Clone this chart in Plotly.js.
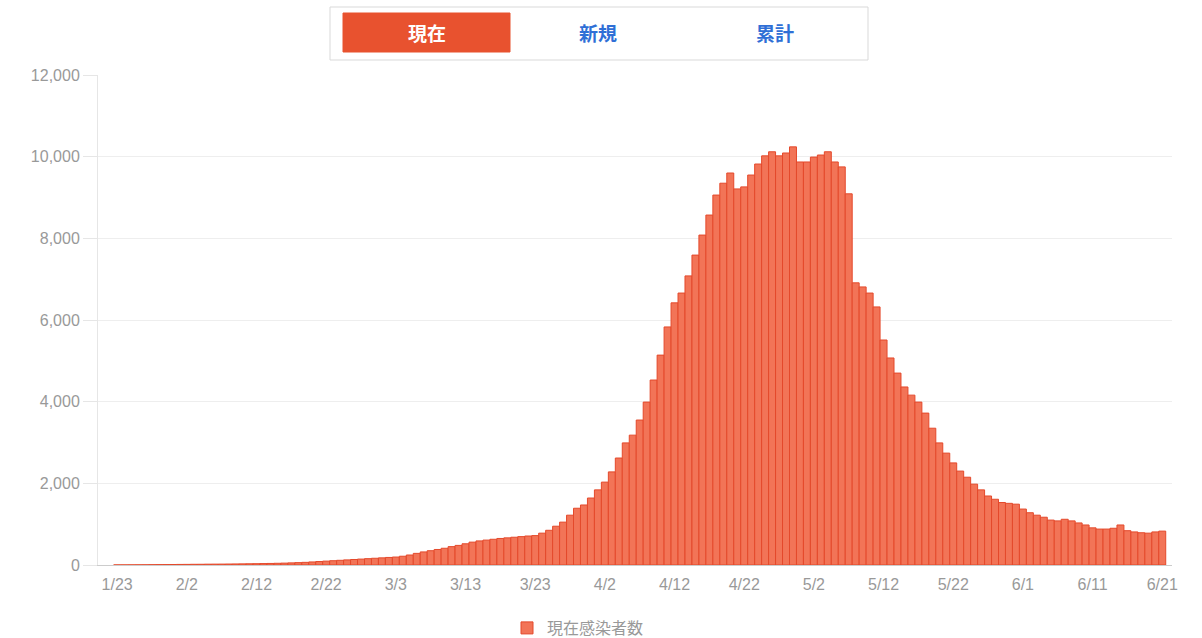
<!DOCTYPE html>
<html>
<head>
<meta charset="utf-8">
<script src="https://cdn.plot.ly/plotly-3.0.1.min.js"></script>
<style>
  html, body { margin: 0; padding: 0; background: #ffffff; }
  #chart { width: 1202px; height: 638px; }
</style>
</head>
<body>
<div id="chart"></div>
<script>
// ---- data ----
const startDate = '2020-01-23';
const seriesName = '現在感染者数';
const activeCases = [
  2, 2, 3, 4, 5, 7, 9, 10, 12, 14,
  15, 17, 18, 20, 21, 22, 24, 26, 28, 30,
  32, 35, 38, 42, 46, 52, 58, 65, 75, 85,
  95, 105, 115, 125, 135, 145, 155, 165, 175, 185,
  195, 215, 245, 285, 320, 350, 380, 410, 450, 480,
  520, 560, 590, 610, 630, 650, 665, 680, 695, 710,
  720, 780, 850, 950, 1050, 1220, 1390, 1470, 1640, 1840,
  2030, 2280, 2620, 2990, 3180, 3550, 3990, 4530, 5140, 5830,
  6420, 6660, 7080, 7590, 8080, 8570, 9060, 9350, 9600, 9210,
  9260, 9550, 9820, 10020, 10120, 10020, 10090, 10240, 9870, 9870,
  9990, 10040, 10120, 9870, 9750, 9090, 6910, 6810, 6660, 6320,
  5510, 5070, 4700, 4360, 4160, 3990, 3720, 3350, 2990, 2740,
  2500, 2300, 2150, 1980, 1840, 1690, 1610, 1530, 1510, 1490,
  1370, 1280, 1220, 1170, 1100, 1080, 1120, 1080, 1030, 980,
  910, 880, 880, 900, 980, 840, 810, 790, 780, 810, 830
];
const tickDates = ['2020-01-23','2020-02-02','2020-02-12','2020-02-22','2020-03-03','2020-03-13',
  '2020-03-23','2020-04-02','2020-04-12','2020-04-22','2020-05-02','2020-05-12',
  '2020-05-22','2020-06-01','2020-06-11','2020-06-21'];
const tickLabels = ['1/23','2/2','2/12','2/22','3/3','3/13','3/23','4/2','4/12','4/22',
  '5/2','5/12','5/22','6/1','6/11','6/21'];
const yTickVals = [0, 2000, 4000, 6000, 8000, 10000, 12000];
const yTickText = ['0', '2,000', '4,000', '6,000', '8,000', '10,000', '12,000'];
const tabLabels = ['現在', '新規', '累計'];

// ---- build dates ----
const DAY = 86400000;
const t0 = Date.parse(startDate + 'T00:00:00Z');
function fmt(ms) { return new Date(ms).toISOString().replace('T', ' ').replace('Z', ''); }
const dates = activeCases.map((_, i) => fmt(t0 + i * DAY).slice(0, 10));

const numFont = 'Arial, "Liberation Sans", "Noto Sans CJK JP", sans-serif';
const cjkFont = '"Noto Sans CJK JP", "Noto Sans CJK SC", sans-serif';

const trace = {
  type: 'bar',
  x: dates,
  y: activeCases,
  name: seriesName,
  marker: { color: '#f27457', line: { color: '#e4492b', width: 1 } },
  hoverinfo: 'x+y',
  showlegend: true
};

// paper coordinate helpers (plot area: x 98..1172, y 75..565)
const L = 98, R = 1172, T = 75, B = 565;
const px = v => (v - L) / (R - L);
const py = v => (B - v) / (B - T);

const layout = {
  width: 1202, height: 638,
  margin: { l: L, r: 1202 - R, t: T, b: 638 - B, autoexpand: false },
  paper_bgcolor: '#ffffff',
  plot_bgcolor: '#ffffff',
  bargap: 0,
  font: { family: numFont, color: '#999999', size: 16 },
  xaxis: {
    type: 'date',
    range: [fmt(t0 - 2.75 * DAY), fmt(t0 + 151.4 * DAY)],
    tickmode: 'array',
    tickvals: tickDates,
    ticktext: tickLabels,
    showgrid: false,
    ticks: 'outside', ticklen: 5, tickcolor: 'rgba(0,0,0,0)',
    tickfont: { family: numFont, size: 16, color: '#999999' },
    showline: true, linecolor: '#cccccc', linewidth: 1,
    zeroline: false, fixedrange: true, automargin: false
  },
  yaxis: {
    range: [0, 12000],
    tickmode: 'array',
    tickvals: yTickVals,
    ticktext: yTickText,
    showgrid: true, gridcolor: '#eeeeee', gridwidth: 1,
    ticks: 'outside', ticklen: 14, tickcolor: '#e6e6e6',
    tickfont: { family: numFont, size: 16, color: '#999999' },
    showline: true, linecolor: '#e6e6e6', linewidth: 1,
    zeroline: false, fixedrange: true, automargin: false
  },
  showlegend: true,
  legend: {
    orientation: 'h',
    x: px(507), xanchor: 'left',
    y: py(628), yanchor: 'middle',
    font: { family: cjkFont, size: 16, color: '#999999' },
    bgcolor: 'rgba(0,0,0,0)'
  },
  shapes: [
    { type: 'rect', xref: 'paper', yref: 'paper',
      x0: px(330), x1: px(868), y0: py(7), y1: py(60),
      line: { color: '#d9d9d9', width: 1 }, fillcolor: '#ffffff' },
    { type: 'rect', xref: 'paper', yref: 'paper',
      x0: px(343), x1: px(510), y0: py(13), y1: py(52),
      line: { color: '#e8522f', width: 1 }, fillcolor: '#e8522f' }
  ],
  annotations: [
    { text: '<b>' + tabLabels[0] + '</b>', xref: 'paper', yref: 'paper', x: px(427), y: py(32),
      xanchor: 'center', yanchor: 'middle', showarrow: false,
      font: { family: cjkFont, size: 19, color: '#ffffff' } },
    { text: '<b>' + tabLabels[1] + '</b>', xref: 'paper', yref: 'paper', x: px(598), y: py(32),
      xanchor: 'center', yanchor: 'middle', showarrow: false,
      font: { family: cjkFont, size: 19, color: '#2f6fd6' } },
    { text: '<b>' + tabLabels[2] + '</b>', xref: 'paper', yref: 'paper', x: px(775), y: py(32),
      xanchor: 'center', yanchor: 'middle', showarrow: false,
      font: { family: cjkFont, size: 19, color: '#2f6fd6' } }
  ]
};

Plotly.newPlot('chart', [trace], layout, { displayModeBar: false, staticPlot: true });
</script>
</body>
</html>
